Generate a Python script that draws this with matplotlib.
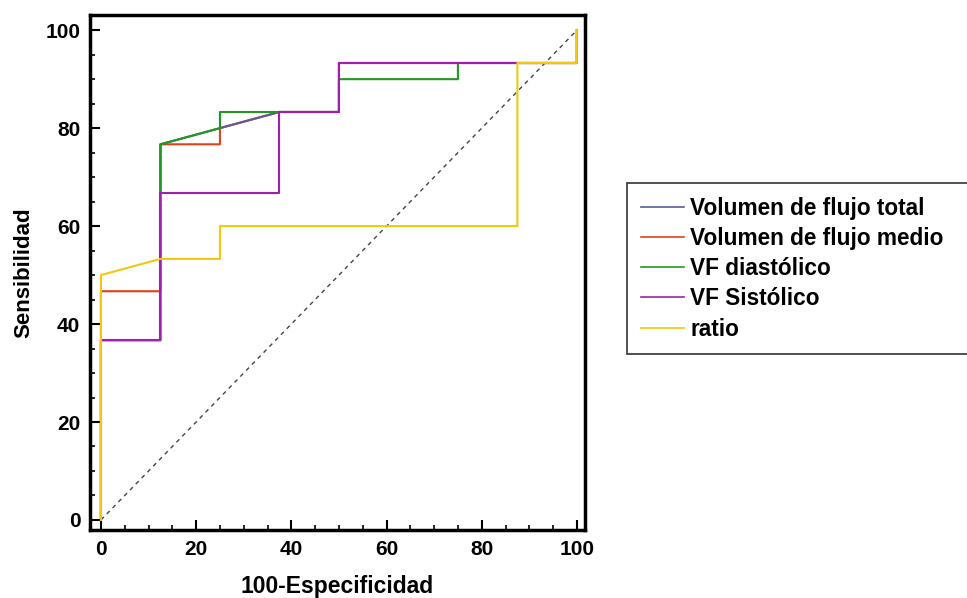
import matplotlib
matplotlib.use("Agg")
import matplotlib.pyplot as plt
from matplotlib.ticker import MultipleLocator

plt.rcParams['font.family'] = ['Liberation Sans', 'DejaVu Sans']
plt.rcParams['font.weight'] = 'bold'

labels = ["Volumen de flujo total", "Volumen de flujo medio", "VF diastólico", "VF Sistólico", "ratio"]
colors = ["#5b5b9e", "#e0401c", "#1f9a1f", "#a01fb0", "#f0c810"]

x_total = [0, 0, 12.5, 12.5, 37.5, 50, 50, 87.5, 100, 100]
y_total = [0, 36.7, 36.7, 76.7, 83.3, 83.3, 93.3, 93.3, 93.3, 100]

x_medio = [0, 0, 12.5, 12.5, 25, 25, 37.5, 50, 50, 87.5, 100, 100]
y_medio = [0, 46.7, 46.7, 76.7, 76.7, 80.0, 83.3, 83.3, 93.3, 93.3, 93.3, 100]

x_diast = [0, 0, 12.5, 12.5, 25, 25, 37.5, 50, 50, 75, 75, 87.5, 100, 100]
y_diast = [0, 36.7, 36.7, 76.7, 80.0, 83.3, 83.3, 83.3, 90.0, 90.0, 93.3, 93.3, 93.3, 100]

x_sist = [0, 0, 12.5, 12.5, 37.5, 37.5, 50, 50, 87.5, 100, 100]
y_sist = [0, 36.7, 36.7, 66.7, 66.7, 83.3, 83.3, 93.3, 93.3, 93.3, 100]

x_ratio = [0, 0, 12.5, 25, 25, 87.5, 87.5, 100, 100]
y_ratio = [0, 50.0, 53.3, 53.3, 60.0, 60.0, 93.3, 93.3, 100]

series = [(x_total, y_total), (x_medio, y_medio), (x_diast, y_diast), (x_sist, y_sist), (x_ratio, y_ratio)]
zorders = [3.5, 3, 4, 5, 6]

fig = plt.figure(figsize=(9.67, 5.98), dpi=100)
ax = fig.add_axes([90/967, 68/598, 495/967, 515/598])

ax.plot([0, 100], [0, 100], linestyle=(0, (3, 3)), color="#444444", lw=1.0, zorder=2)

handles = []
for (xs, ys), c, lab, z in zip(series, colors, labels, zorders):
    h, = ax.plot(xs, ys, color=c, lw=1.5, label=lab, zorder=z)
    handles.append(h)

ax.set_xlim(-2.3, 101.7)
ax.set_ylim(-2.05, 103.1)
ax.xaxis.set_major_locator(MultipleLocator(20))
ax.yaxis.set_major_locator(MultipleLocator(20))
ax.xaxis.set_minor_locator(MultipleLocator(5))
ax.yaxis.set_minor_locator(MultipleLocator(5))
ax.tick_params(which='major', direction='in', length=7, width=1.5, labelsize=15, pad=7)
ax.tick_params(which='minor', direction='in', length=3.5, width=1.2)
for s in ax.spines.values():
    s.set_linewidth(2.5)
for t in ax.get_xticklabels() + ax.get_yticklabels():
    t.set_fontweight('bold')

ax.set_xlabel("100-Especificidad", fontsize=16.5, fontweight='bold', labelpad=12)
ax.set_ylabel("Sensibilidad", fontsize=16, fontweight='bold', labelpad=8)

leg = fig.legend(handles=handles, labels=labels, loc='upper left',
                 bbox_to_anchor=(627/967, 1 - 183/598, 370/967, 0.0), mode='expand',
                 frameon=True, fancybox=False, handlelength=1.9,
                 handletextpad=0.3, labelspacing=0.32, borderpad=0.6,
                 borderaxespad=0.0,
                 prop={'weight': 'bold', 'size': 16.3})
leg.get_frame().set_edgecolor('black')
leg.get_frame().set_linewidth(1.2)
for lh in leg.get_lines():
    lh.set_linewidth(1.2)

fig.savefig("out.png", dpi=100)
